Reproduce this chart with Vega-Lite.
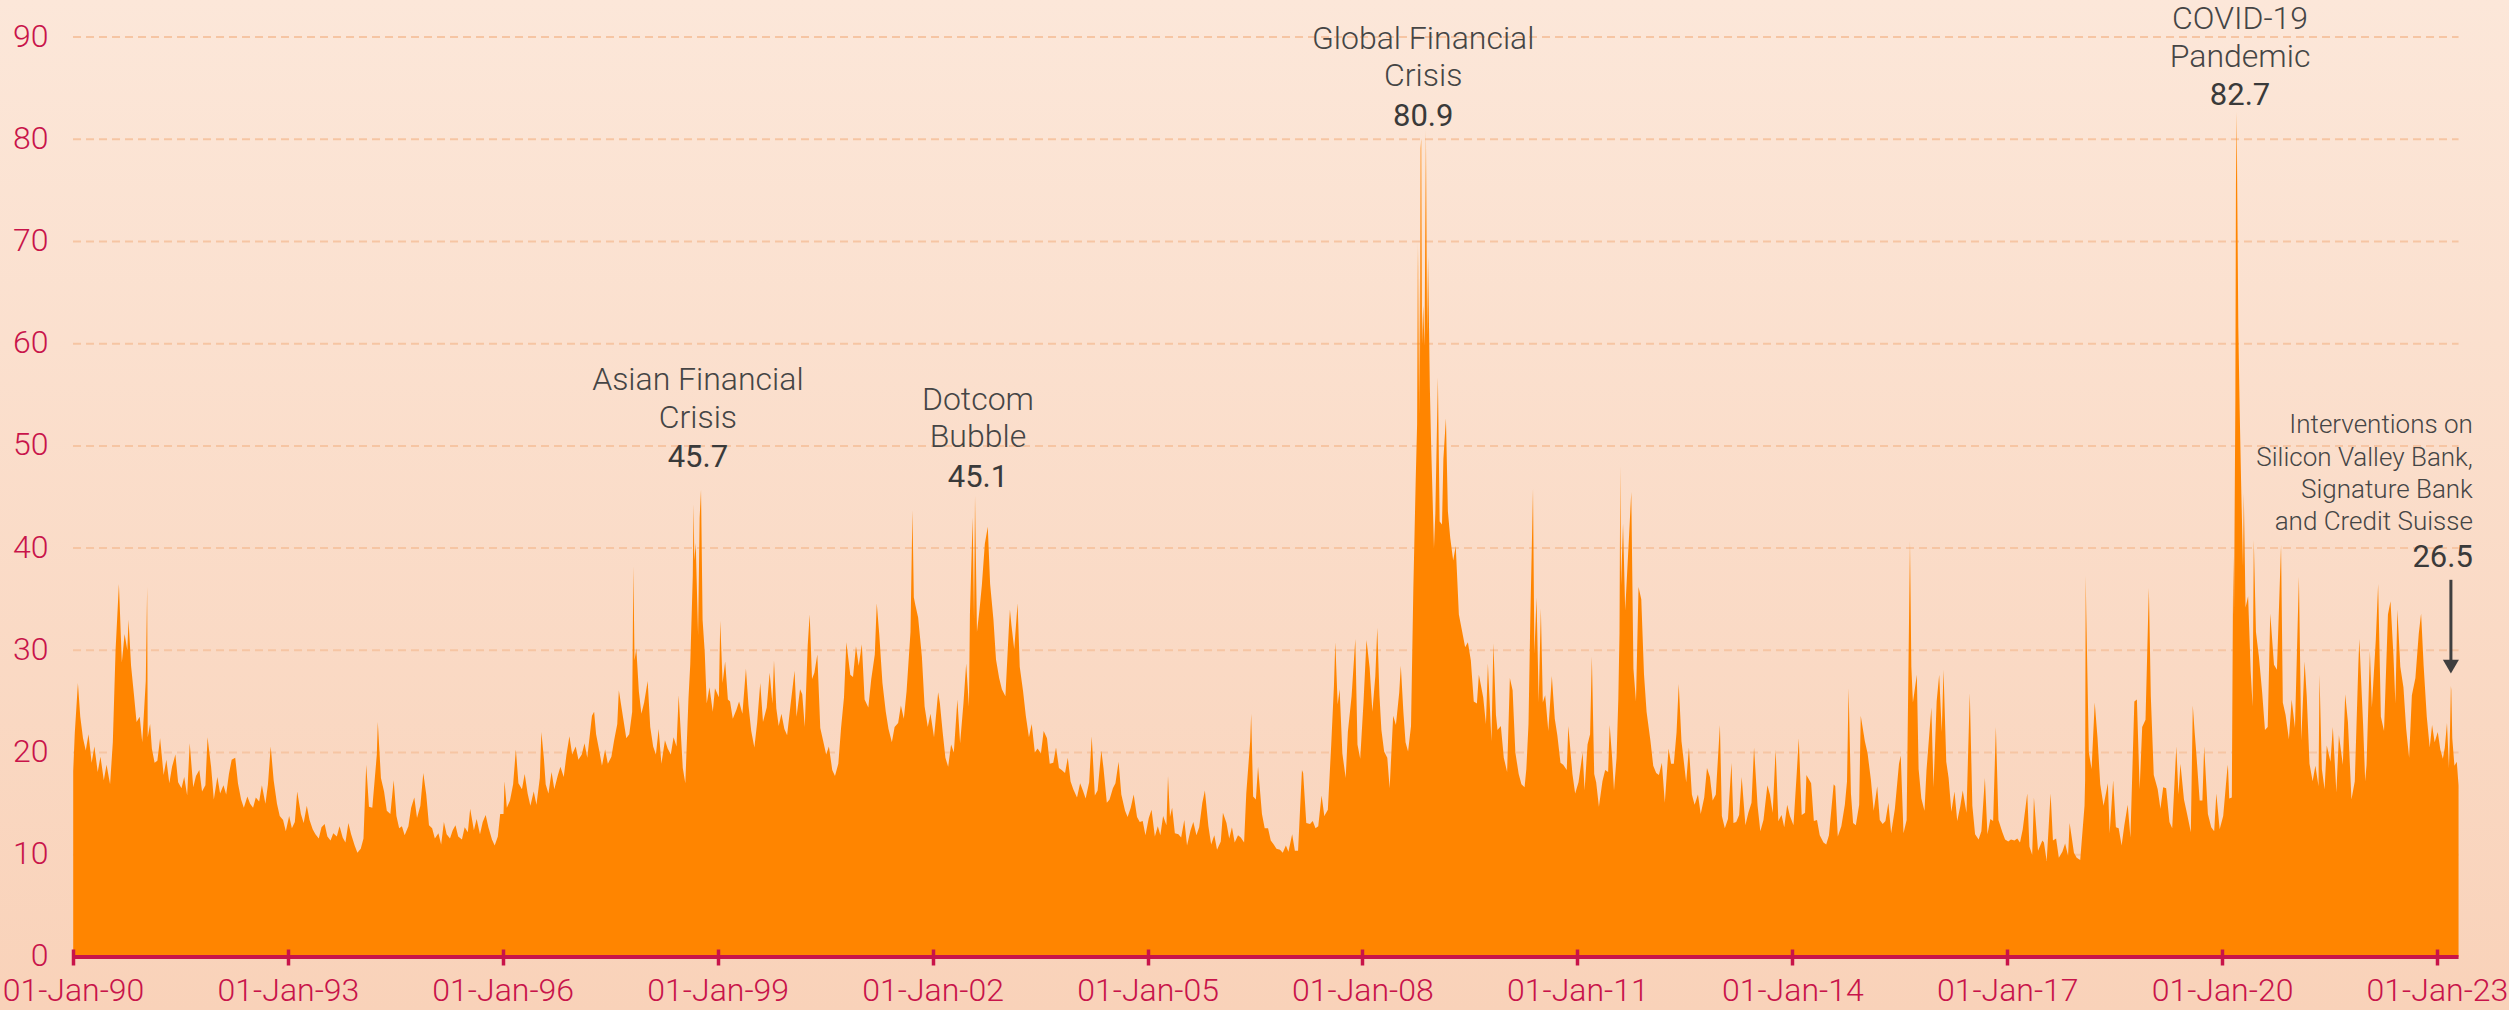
{
"$schema":"https://vega.github.io/schema/vega-lite/v6.json",
"width":2509,"height":1010,"autosize":{"type":"none"},"padding":0,
"background":"#FADDCB",
"config":{"view":{"stroke":null,"fill":{"gradient":"linear","x1":0,"y1":0,"x2":0,"y2":1,"stops":[{"offset":0,"color":"#FCE7D9"},{"offset":1,"color":"#F9D2B9"}]}},"font":"Roboto"},
"datasets":{
"grid":[{"v":10},{"v":20},{"v":30},{"v":40},{"v":50},{"v":60},{"v":70},{"v":80},{"v":90}],
"notes":[
{"g":"c","d":"1998-09-22","v":55.47,"t":"Asian Financial"},{"g":"c","d":"1998-09-22","v":51.75,"t":"Crisis"},{"g":"n","d":"1998-09-22","v":47.94,"t":"45.7"},
{"g":"c","d":"2002-08-20","v":53.51,"t":"Dotcom"},{"g":"c","d":"2002-08-20","v":49.89,"t":"Bubble"},{"g":"n","d":"2002-08-20","v":45.98,"t":"45.1"},
{"g":"c","d":"2008-11-06","v":88.83,"t":"Global Financial"},{"g":"c","d":"2008-11-06","v":85.21,"t":"Crisis"},{"g":"n","d":"2008-11-06","v":81.30,"t":"80.9"},
{"g":"c","d":"2020-04-02","v":90.78,"t":"COVID-19"},{"g":"c","d":"2020-04-02","v":87.07,"t":"Pandemic"},{"g":"n","d":"2020-04-02","v":83.35,"t":"82.7"},
{"g":"r","d":"2023-07-03","v":51.26,"t":"Interventions on"},{"g":"r","d":"2023-07-03","v":48.03,"t":"Silicon Valley Bank,"},{"g":"r","d":"2023-07-03","v":44.90,"t":"Signature Bank"},{"g":"r","d":"2023-07-03","v":41.77,"t":"and Credit Suisse"},{"g":"rn","d":"2023-07-03","v":38.15,"t":"26.5"}
],
"arrow":[{"d":"2023-03-13","a":36.9,"b":28.9,"h":28.4}],
"vix":[
{"d":"1990-01-02","v":18.2},{"d":"1990-01-10","v":21.9},{"d":"1990-01-26","v":26.8},{"d":"1990-02-07","v":23.5},{"d":"1990-02-21","v":21.4},{"d":"1990-03-07","v":20.2},{"d":"1990-03-21","v":21.8},{"d":"1990-04-06","v":19.0},{"d":"1990-04-20","v":20.6},{"d":"1990-05-07","v":18.1},{"d":"1990-05-21","v":19.6},{"d":"1990-06-07","v":17.3},{"d":"1990-06-21","v":18.8},{"d":"1990-07-09","v":16.9},{"d":"1990-07-23","v":21.0},{"d":"1990-08-06","v":30.0},{"d":"1990-08-23","v":36.5},{"d":"1990-09-07","v":28.8},{"d":"1990-09-21","v":31.6},{"d":"1990-10-05","v":30.0},{"d":"1990-10-11","v":33.0},{"d":"1990-10-24","v":28.5},{"d":"1990-11-07","v":25.8},{"d":"1990-11-21","v":23.0},{"d":"1990-12-07","v":23.5},{"d":"1990-12-20","v":21.0},
{"d":"1991-01-07","v":27.0},{"d":"1991-01-14","v":36.2},{"d":"1991-01-17","v":21.5},{"d":"1991-01-29","v":22.8},{"d":"1991-02-07","v":20.4},{"d":"1991-02-21","v":19.0},{"d":"1991-03-07","v":19.2},{"d":"1991-03-21","v":21.4},{"d":"1991-04-08","v":17.8},{"d":"1991-04-22","v":19.3},{"d":"1991-05-07","v":17.0},{"d":"1991-05-21","v":18.6},{"d":"1991-06-07","v":19.8},{"d":"1991-06-21","v":17.1},{"d":"1991-07-08","v":16.5},{"d":"1991-07-22","v":17.6},{"d":"1991-08-06","v":15.8},{"d":"1991-08-19","v":20.9},{"d":"1991-09-06","v":16.6},{"d":"1991-09-20","v":17.7},{"d":"1991-10-07","v":18.3},{"d":"1991-10-21","v":16.2},{"d":"1991-11-07","v":16.8},{"d":"1991-11-18","v":21.5},{"d":"1991-12-06","v":18.6},{"d":"1991-12-20","v":15.4},
{"d":"1992-01-07","v":17.6},{"d":"1992-01-21","v":16.0},{"d":"1992-02-07","v":16.8},{"d":"1992-02-21","v":15.9},{"d":"1992-03-06","v":17.9},{"d":"1992-03-20","v":19.3},{"d":"1992-04-07","v":19.5},{"d":"1992-04-21","v":17.0},{"d":"1992-05-07","v":15.4},{"d":"1992-05-21","v":14.6},{"d":"1992-06-08","v":15.7},{"d":"1992-06-22","v":15.0},{"d":"1992-07-07","v":14.6},{"d":"1992-07-21","v":15.6},{"d":"1992-08-07","v":15.2},{"d":"1992-08-21","v":16.8},{"d":"1992-09-08","v":15.0},{"d":"1992-09-21","v":16.9},{"d":"1992-10-05","v":20.6},{"d":"1992-10-20","v":17.3},{"d":"1992-11-06","v":15.0},{"d":"1992-11-20","v":13.8},{"d":"1992-12-07","v":13.4},{"d":"1992-12-21","v":12.3},
{"d":"1993-01-07","v":13.8},{"d":"1993-01-21","v":12.6},{"d":"1993-02-05","v":13.2},{"d":"1993-02-17","v":16.2},{"d":"1993-03-08","v":14.0},{"d":"1993-03-22","v":13.1},{"d":"1993-04-07","v":14.8},{"d":"1993-04-21","v":13.4},{"d":"1993-05-07","v":12.5},{"d":"1993-05-21","v":12.0},{"d":"1993-06-07","v":11.6},{"d":"1993-06-21","v":12.7},{"d":"1993-07-07","v":13.0},{"d":"1993-07-21","v":11.8},{"d":"1993-08-06","v":11.4},{"d":"1993-08-20","v":12.1},{"d":"1993-09-07","v":11.8},{"d":"1993-09-21","v":12.8},{"d":"1993-10-07","v":11.7},{"d":"1993-10-21","v":11.2},{"d":"1993-11-05","v":13.1},{"d":"1993-11-19","v":12.0},{"d":"1993-12-07","v":10.9},{"d":"1993-12-21","v":10.2},
{"d":"1994-01-07","v":10.6},{"d":"1994-01-21","v":11.6},{"d":"1994-02-04","v":18.8},{"d":"1994-02-18","v":14.7},{"d":"1994-03-07","v":14.6},{"d":"1994-03-30","v":19.8},{"d":"1994-04-04","v":23.0},{"d":"1994-04-20","v":17.5},{"d":"1994-05-06","v":16.2},{"d":"1994-05-20","v":14.3},{"d":"1994-06-07","v":14.0},{"d":"1994-06-24","v":17.3},{"d":"1994-07-08","v":13.8},{"d":"1994-07-22","v":12.6},{"d":"1994-08-05","v":12.8},{"d":"1994-08-19","v":11.9},{"d":"1994-09-07","v":12.8},{"d":"1994-09-21","v":14.6},{"d":"1994-10-07","v":15.6},{"d":"1994-10-21","v":13.6},{"d":"1994-11-07","v":14.8},{"d":"1994-11-22","v":18.0},{"d":"1994-12-07","v":15.9},{"d":"1994-12-21","v":12.9},
{"d":"1995-01-06","v":12.6},{"d":"1995-01-20","v":11.6},{"d":"1995-02-07","v":12.1},{"d":"1995-02-21","v":11.0},{"d":"1995-03-07","v":13.2},{"d":"1995-03-21","v":12.0},{"d":"1995-04-07","v":11.6},{"d":"1995-04-21","v":12.4},{"d":"1995-05-05","v":12.9},{"d":"1995-05-19","v":11.8},{"d":"1995-06-07","v":11.5},{"d":"1995-06-21","v":12.7},{"d":"1995-07-07","v":12.2},{"d":"1995-07-19","v":14.5},{"d":"1995-08-07","v":12.4},{"d":"1995-08-21","v":13.5},{"d":"1995-09-07","v":12.0},{"d":"1995-09-21","v":13.2},{"d":"1995-10-06","v":13.9},{"d":"1995-10-20","v":12.7},{"d":"1995-11-07","v":11.5},{"d":"1995-11-21","v":10.9},{"d":"1995-12-07","v":11.8},{"d":"1995-12-19","v":14.0},
{"d":"1996-01-05","v":14.0},{"d":"1996-01-10","v":17.2},{"d":"1996-01-22","v":14.6},{"d":"1996-02-07","v":15.3},{"d":"1996-02-23","v":16.9},{"d":"1996-03-08","v":20.3},{"d":"1996-03-21","v":17.0},{"d":"1996-04-08","v":16.4},{"d":"1996-04-22","v":17.9},{"d":"1996-05-07","v":16.0},{"d":"1996-05-21","v":14.8},{"d":"1996-06-07","v":16.2},{"d":"1996-06-21","v":14.9},{"d":"1996-07-08","v":17.5},{"d":"1996-07-16","v":22.0},{"d":"1996-07-29","v":19.4},{"d":"1996-08-07","v":16.9},{"d":"1996-08-21","v":16.0},{"d":"1996-09-06","v":18.1},{"d":"1996-09-20","v":16.4},{"d":"1996-10-07","v":17.7},{"d":"1996-10-21","v":18.6},{"d":"1996-11-07","v":17.6},{"d":"1996-11-21","v":19.8},{"d":"1996-12-06","v":21.6},{"d":"1996-12-20","v":19.8},
{"d":"1997-01-07","v":20.6},{"d":"1997-01-21","v":19.3},{"d":"1997-02-07","v":19.8},{"d":"1997-02-21","v":20.9},{"d":"1997-03-07","v":19.5},{"d":"1997-03-31","v":23.6},{"d":"1997-04-11","v":24.0},{"d":"1997-04-21","v":21.8},{"d":"1997-05-07","v":20.2},{"d":"1997-05-21","v":18.7},{"d":"1997-06-06","v":20.3},{"d":"1997-06-20","v":18.9},{"d":"1997-07-08","v":19.6},{"d":"1997-07-22","v":21.2},{"d":"1997-08-07","v":22.8},{"d":"1997-08-15","v":26.1},{"d":"1997-09-05","v":23.5},{"d":"1997-09-22","v":21.4},{"d":"1997-10-07","v":21.8},{"d":"1997-10-22","v":24.0},{"d":"1997-10-28","v":38.2},{"d":"1997-11-03","v":29.0},{"d":"1997-11-12","v":30.2},{"d":"1997-11-25","v":26.0},{"d":"1997-12-08","v":23.8},{"d":"1997-12-22","v":24.9},
{"d":"1998-01-09","v":27.0},{"d":"1998-01-22","v":22.5},{"d":"1998-02-06","v":20.6},{"d":"1998-02-20","v":19.8},{"d":"1998-03-06","v":22.3},{"d":"1998-03-20","v":18.9},{"d":"1998-04-07","v":21.2},{"d":"1998-04-21","v":20.4},{"d":"1998-05-07","v":19.8},{"d":"1998-05-21","v":21.5},{"d":"1998-06-05","v":20.6},{"d":"1998-06-16","v":25.6},{"d":"1998-07-07","v":18.5},{"d":"1998-07-20","v":17.0},{"d":"1998-08-05","v":25.3},{"d":"1998-08-14","v":28.6},{"d":"1998-08-27","v":37.3},{"d":"1998-08-31","v":44.3},{"d":"1998-09-04","v":38.8},{"d":"1998-09-11","v":40.5},{"d":"1998-09-23","v":31.5},{"d":"1998-10-01","v":43.0},{"d":"1998-10-08","v":45.7},{"d":"1998-10-16","v":33.0},{"d":"1998-10-27","v":29.8},{"d":"1998-11-06","v":24.8},{"d":"1998-11-20","v":26.4},{"d":"1998-12-07","v":24.0},{"d":"1998-12-18","v":26.3},
{"d":"1999-01-07","v":25.4},{"d":"1999-01-14","v":32.9},{"d":"1999-01-26","v":26.8},{"d":"1999-02-08","v":28.9},{"d":"1999-02-22","v":25.2},{"d":"1999-03-05","v":25.0},{"d":"1999-03-19","v":23.3},{"d":"1999-04-07","v":24.2},{"d":"1999-04-20","v":25.0},{"d":"1999-05-07","v":23.8},{"d":"1999-05-25","v":28.2},{"d":"1999-06-07","v":24.6},{"d":"1999-06-21","v":22.1},{"d":"1999-07-07","v":20.5},{"d":"1999-07-21","v":22.9},{"d":"1999-08-06","v":26.8},{"d":"1999-08-20","v":23.0},{"d":"1999-09-08","v":24.4},{"d":"1999-09-23","v":27.8},{"d":"1999-10-07","v":24.8},{"d":"1999-10-15","v":29.0},{"d":"1999-10-27","v":24.3},{"d":"1999-11-08","v":22.6},{"d":"1999-11-22","v":23.8},{"d":"1999-12-07","v":22.3},{"d":"1999-12-21","v":21.7},
{"d":"2000-01-07","v":24.6},{"d":"2000-01-28","v":28.0},{"d":"2000-02-07","v":23.5},{"d":"2000-02-25","v":26.2},{"d":"2000-03-07","v":25.7},{"d":"2000-03-20","v":22.5},{"d":"2000-04-04","v":30.5},{"d":"2000-04-14","v":33.5},{"d":"2000-04-26","v":27.2},{"d":"2000-05-08","v":27.8},{"d":"2000-05-23","v":29.6},{"d":"2000-06-07","v":22.4},{"d":"2000-06-21","v":21.2},{"d":"2000-07-07","v":19.8},{"d":"2000-07-21","v":20.6},{"d":"2000-08-07","v":18.3},{"d":"2000-08-21","v":17.7},{"d":"2000-09-07","v":18.9},{"d":"2000-09-21","v":22.4},{"d":"2000-10-06","v":25.4},{"d":"2000-10-18","v":30.8},{"d":"2000-11-07","v":27.6},{"d":"2000-11-21","v":27.4},{"d":"2000-12-06","v":30.4},{"d":"2000-12-20","v":28.5},
{"d":"2001-01-05","v":30.6},{"d":"2001-01-19","v":25.2},{"d":"2001-02-07","v":24.4},{"d":"2001-02-22","v":27.2},{"d":"2001-03-12","v":29.6},{"d":"2001-03-22","v":34.6},{"d":"2001-04-04","v":31.5},{"d":"2001-04-20","v":26.8},{"d":"2001-05-07","v":24.0},{"d":"2001-05-21","v":22.3},{"d":"2001-06-07","v":21.0},{"d":"2001-06-21","v":22.5},{"d":"2001-07-09","v":22.9},{"d":"2001-07-23","v":24.6},{"d":"2001-08-07","v":23.3},{"d":"2001-08-21","v":26.0},{"d":"2001-09-10","v":31.8},{"d":"2001-09-20","v":43.7},{"d":"2001-09-27","v":35.2},{"d":"2001-10-05","v":34.4},{"d":"2001-10-19","v":33.2},{"d":"2001-11-07","v":29.4},{"d":"2001-11-21","v":24.5},{"d":"2001-12-07","v":22.5},{"d":"2001-12-21","v":23.8},
{"d":"2002-01-08","v":21.5},{"d":"2002-01-29","v":25.9},{"d":"2002-02-07","v":24.8},{"d":"2002-02-21","v":22.0},{"d":"2002-03-07","v":19.5},{"d":"2002-03-21","v":18.6},{"d":"2002-04-05","v":20.8},{"d":"2002-04-19","v":20.0},{"d":"2002-05-07","v":25.2},{"d":"2002-05-21","v":20.9},{"d":"2002-06-07","v":24.8},{"d":"2002-06-21","v":28.7},{"d":"2002-07-05","v":24.5},{"d":"2002-07-10","v":33.5},{"d":"2002-07-24","v":43.0},{"d":"2002-07-31","v":33.0},{"d":"2002-08-05","v":45.1},{"d":"2002-08-15","v":31.8},{"d":"2002-08-28","v":34.0},{"d":"2002-09-09","v":36.4},{"d":"2002-09-24","v":40.4},{"d":"2002-10-09","v":42.1},{"d":"2002-10-21","v":36.5},{"d":"2002-11-07","v":33.0},{"d":"2002-11-20","v":29.1},{"d":"2002-12-06","v":27.3},{"d":"2002-12-20","v":26.2},
{"d":"2003-01-07","v":25.5},{"d":"2003-01-24","v":32.0},{"d":"2003-01-30","v":34.0},{"d":"2003-02-07","v":32.4},{"d":"2003-02-21","v":30.1},{"d":"2003-03-10","v":34.6},{"d":"2003-03-21","v":28.4},{"d":"2003-04-07","v":26.0},{"d":"2003-04-21","v":23.6},{"d":"2003-05-07","v":21.5},{"d":"2003-05-21","v":22.8},{"d":"2003-06-06","v":20.0},{"d":"2003-06-20","v":20.4},{"d":"2003-07-07","v":19.9},{"d":"2003-07-21","v":22.1},{"d":"2003-08-07","v":21.4},{"d":"2003-08-21","v":18.9},{"d":"2003-09-08","v":19.0},{"d":"2003-09-22","v":20.5},{"d":"2003-10-07","v":18.5},{"d":"2003-10-21","v":18.3},{"d":"2003-11-07","v":18.0},{"d":"2003-11-21","v":19.5},{"d":"2003-12-05","v":17.2},{"d":"2003-12-19","v":16.4},
{"d":"2004-01-07","v":15.6},{"d":"2004-01-23","v":17.0},{"d":"2004-02-06","v":16.3},{"d":"2004-02-20","v":15.5},{"d":"2004-03-09","v":17.1},{"d":"2004-03-22","v":21.6},{"d":"2004-04-07","v":15.8},{"d":"2004-04-21","v":16.3},{"d":"2004-05-10","v":20.2},{"d":"2004-05-21","v":18.5},{"d":"2004-06-07","v":15.1},{"d":"2004-06-21","v":15.4},{"d":"2004-07-08","v":16.5},{"d":"2004-07-21","v":17.0},{"d":"2004-08-06","v":19.1},{"d":"2004-08-20","v":15.9},{"d":"2004-09-08","v":14.3},{"d":"2004-09-21","v":13.7},{"d":"2004-10-07","v":14.6},{"d":"2004-10-22","v":15.9},{"d":"2004-11-08","v":13.7},{"d":"2004-11-22","v":13.2},{"d":"2004-12-07","v":13.3},{"d":"2004-12-21","v":11.9},
{"d":"2005-01-07","v":13.6},{"d":"2005-01-21","v":14.4},{"d":"2005-02-07","v":11.8},{"d":"2005-02-22","v":12.8},{"d":"2005-03-07","v":11.9},{"d":"2005-03-21","v":13.8},{"d":"2005-04-07","v":12.9},{"d":"2005-04-15","v":17.7},{"d":"2005-04-25","v":13.7},{"d":"2005-05-06","v":14.6},{"d":"2005-05-20","v":12.1},{"d":"2005-06-07","v":12.0},{"d":"2005-06-21","v":11.7},{"d":"2005-07-07","v":13.4},{"d":"2005-07-21","v":10.9},{"d":"2005-08-08","v":12.4},{"d":"2005-08-22","v":13.2},{"d":"2005-09-07","v":11.9},{"d":"2005-09-21","v":12.7},{"d":"2005-10-07","v":15.1},{"d":"2005-10-20","v":16.3},{"d":"2005-11-07","v":12.8},{"d":"2005-11-21","v":11.0},{"d":"2005-12-07","v":11.9},{"d":"2005-12-21","v":10.5},
{"d":"2006-01-09","v":11.3},{"d":"2006-01-20","v":14.1},{"d":"2006-02-07","v":13.1},{"d":"2006-02-21","v":11.6},{"d":"2006-03-07","v":12.7},{"d":"2006-03-21","v":11.2},{"d":"2006-04-07","v":11.9},{"d":"2006-04-21","v":11.7},{"d":"2006-05-08","v":11.2},{"d":"2006-05-19","v":16.0},{"d":"2006-06-08","v":21.1},{"d":"2006-06-13","v":23.8},{"d":"2006-06-23","v":15.7},{"d":"2006-07-07","v":15.4},{"d":"2006-07-18","v":18.6},{"d":"2006-08-07","v":14.0},{"d":"2006-08-21","v":12.6},{"d":"2006-09-07","v":12.6},{"d":"2006-09-21","v":11.4},{"d":"2006-10-06","v":11.0},{"d":"2006-10-20","v":10.6},{"d":"2006-11-07","v":10.5},{"d":"2006-11-21","v":10.2},{"d":"2006-12-07","v":10.9},{"d":"2006-12-20","v":10.3},
{"d":"2007-01-08","v":12.0},{"d":"2007-01-22","v":10.4},{"d":"2007-02-07","v":10.4},{"d":"2007-02-27","v":18.3},{"d":"2007-03-05","v":18.0},{"d":"2007-03-21","v":13.1},{"d":"2007-04-09","v":13.0},{"d":"2007-04-23","v":13.3},{"d":"2007-05-07","v":12.6},{"d":"2007-05-21","v":12.8},{"d":"2007-06-07","v":15.8},{"d":"2007-06-21","v":13.8},{"d":"2007-07-09","v":14.4},{"d":"2007-07-26","v":20.7},{"d":"2007-08-09","v":26.5},{"d":"2007-08-16","v":30.8},{"d":"2007-08-28","v":24.7},{"d":"2007-09-07","v":26.2},{"d":"2007-09-21","v":19.9},{"d":"2007-10-08","v":17.5},{"d":"2007-10-19","v":22.0},{"d":"2007-11-07","v":25.5},{"d":"2007-11-26","v":31.1},{"d":"2007-12-07","v":20.8},{"d":"2007-12-21","v":19.4},
{"d":"2008-01-07","v":25.0},{"d":"2008-01-22","v":31.0},{"d":"2008-02-07","v":28.3},{"d":"2008-02-21","v":24.0},{"d":"2008-03-07","v":27.5},{"d":"2008-03-17","v":32.2},{"d":"2008-03-28","v":25.6},{"d":"2008-04-07","v":22.2},{"d":"2008-04-21","v":20.1},{"d":"2008-05-07","v":19.5},{"d":"2008-05-19","v":16.5},{"d":"2008-06-06","v":23.6},{"d":"2008-06-20","v":22.7},{"d":"2008-07-07","v":25.9},{"d":"2008-07-15","v":28.5},{"d":"2008-07-28","v":24.0},{"d":"2008-08-08","v":21.0},{"d":"2008-08-21","v":20.1},{"d":"2008-09-05","v":22.6},{"d":"2008-09-17","v":36.2},{"d":"2008-09-29","v":46.7},{"d":"2008-10-06","v":52.1},{"d":"2008-10-10","v":69.9},{"d":"2008-10-13","v":55.0},{"d":"2008-10-15","v":69.3},{"d":"2008-10-20","v":53.0},{"d":"2008-10-24","v":79.1},{"d":"2008-10-27","v":80.1},{"d":"2008-10-31","v":59.9},{"d":"2008-11-06","v":63.7},{"d":"2008-11-13","v":59.8},{"d":"2008-11-20","v":80.9},{"d":"2008-11-26","v":60.9},{"d":"2008-12-01","v":68.5},{"d":"2008-12-10","v":55.7},{"d":"2008-12-17","v":49.8},{"d":"2008-12-31","v":40.0},
{"d":"2009-01-07","v":43.4},{"d":"2009-01-20","v":56.7},{"d":"2009-01-29","v":42.6},{"d":"2009-02-10","v":42.3},{"d":"2009-02-17","v":48.7},{"d":"2009-03-02","v":52.7},{"d":"2009-03-12","v":43.6},{"d":"2009-03-24","v":41.0},{"d":"2009-04-08","v":38.8},{"d":"2009-04-21","v":40.2},{"d":"2009-05-07","v":33.5},{"d":"2009-05-21","v":32.1},{"d":"2009-06-08","v":30.3},{"d":"2009-06-22","v":30.8},{"d":"2009-07-07","v":29.0},{"d":"2009-07-22","v":25.0},{"d":"2009-08-07","v":24.8},{"d":"2009-08-17","v":27.6},{"d":"2009-09-08","v":25.4},{"d":"2009-09-22","v":22.8},{"d":"2009-10-02","v":28.7},{"d":"2009-10-20","v":21.1},{"d":"2009-10-30","v":30.7},{"d":"2009-11-12","v":23.7},{"d":"2009-11-20","v":22.2},{"d":"2009-12-07","v":22.6},{"d":"2009-12-22","v":19.5},
{"d":"2010-01-08","v":18.1},{"d":"2010-01-22","v":27.3},{"d":"2010-02-05","v":26.1},{"d":"2010-02-19","v":20.0},{"d":"2010-03-08","v":17.9},{"d":"2010-03-22","v":16.9},{"d":"2010-04-07","v":16.6},{"d":"2010-04-16","v":18.4},{"d":"2010-04-27","v":22.8},{"d":"2010-05-06","v":32.8},{"d":"2010-05-20","v":45.8},{"d":"2010-05-27","v":29.7},{"d":"2010-06-07","v":35.2},{"d":"2010-06-18","v":24.9},{"d":"2010-06-29","v":34.1},{"d":"2010-07-09","v":24.9},{"d":"2010-07-21","v":25.6},{"d":"2010-08-06","v":22.1},{"d":"2010-08-24","v":27.5},{"d":"2010-09-08","v":23.3},{"d":"2010-09-21","v":21.7},{"d":"2010-10-07","v":19.0},{"d":"2010-10-21","v":18.8},{"d":"2010-11-08","v":18.3},{"d":"2010-11-16","v":22.6},{"d":"2010-12-07","v":17.9},{"d":"2010-12-21","v":16.0},
{"d":"2011-01-07","v":17.1},{"d":"2011-01-28","v":20.0},{"d":"2011-02-07","v":16.3},{"d":"2011-02-22","v":20.8},{"d":"2011-03-07","v":21.8},{"d":"2011-03-16","v":29.4},{"d":"2011-03-28","v":17.9},{"d":"2011-04-07","v":17.1},{"d":"2011-04-21","v":14.7},{"d":"2011-05-09","v":17.2},{"d":"2011-05-23","v":18.3},{"d":"2011-06-07","v":18.1},{"d":"2011-06-15","v":22.7},{"d":"2011-06-27","v":19.6},{"d":"2011-07-07","v":16.3},{"d":"2011-07-20","v":19.5},{"d":"2011-07-29","v":25.3},{"d":"2011-08-04","v":31.7},{"d":"2011-08-08","v":48.0},{"d":"2011-08-12","v":36.4},{"d":"2011-08-22","v":42.4},{"d":"2011-09-02","v":33.9},{"d":"2011-09-22","v":41.3},{"d":"2011-10-03","v":45.5},{"d":"2011-10-14","v":28.2},{"d":"2011-10-27","v":25.0},{"d":"2011-11-09","v":36.2},{"d":"2011-11-23","v":35.0},{"d":"2011-12-07","v":27.6},{"d":"2011-12-20","v":24.0},
{"d":"2012-01-09","v":21.1},{"d":"2012-01-23","v":18.7},{"d":"2012-02-07","v":18.0},{"d":"2012-02-21","v":17.8},{"d":"2012-03-07","v":19.0},{"d":"2012-03-22","v":15.1},{"d":"2012-04-10","v":20.4},{"d":"2012-04-23","v":18.9},{"d":"2012-05-07","v":18.9},{"d":"2012-05-21","v":22.0},{"d":"2012-06-01","v":26.7},{"d":"2012-06-15","v":21.1},{"d":"2012-07-09","v":17.1},{"d":"2012-07-23","v":20.5},{"d":"2012-08-07","v":15.9},{"d":"2012-08-21","v":14.9},{"d":"2012-09-07","v":15.9},{"d":"2012-09-21","v":14.0},{"d":"2012-10-09","v":15.6},{"d":"2012-10-23","v":18.5},{"d":"2012-11-07","v":17.6},{"d":"2012-11-21","v":15.3},{"d":"2012-12-07","v":15.9},{"d":"2012-12-28","v":22.7},
{"d":"2013-01-07","v":13.8},{"d":"2013-01-22","v":12.6},{"d":"2013-02-07","v":13.5},{"d":"2013-02-25","v":19.0},{"d":"2013-03-07","v":13.1},{"d":"2013-03-21","v":13.2},{"d":"2013-04-05","v":13.9},{"d":"2013-04-18","v":17.6},{"d":"2013-05-07","v":12.9},{"d":"2013-05-22","v":14.1},{"d":"2013-06-07","v":15.1},{"d":"2013-06-20","v":20.5},{"d":"2013-07-08","v":14.8},{"d":"2013-07-22","v":12.3},{"d":"2013-08-07","v":13.4},{"d":"2013-08-27","v":16.8},{"d":"2013-09-09","v":15.9},{"d":"2013-09-23","v":14.1},{"d":"2013-10-08","v":20.3},{"d":"2013-10-22","v":13.3},{"d":"2013-11-07","v":13.9},{"d":"2013-11-21","v":12.7},{"d":"2013-12-06","v":14.9},{"d":"2013-12-20","v":13.8},
{"d":"2014-01-07","v":12.9},{"d":"2014-01-24","v":18.1},{"d":"2014-02-03","v":21.4},{"d":"2014-02-18","v":13.9},{"d":"2014-03-07","v":14.1},{"d":"2014-03-14","v":17.8},{"d":"2014-04-07","v":17.0},{"d":"2014-04-21","v":13.3},{"d":"2014-05-07","v":13.4},{"d":"2014-05-21","v":11.9},{"d":"2014-06-09","v":11.2},{"d":"2014-06-23","v":11.0},{"d":"2014-07-07","v":11.9},{"d":"2014-07-31","v":16.9},{"d":"2014-08-08","v":16.7},{"d":"2014-08-21","v":11.8},{"d":"2014-09-08","v":12.8},{"d":"2014-09-26","v":14.9},{"d":"2014-10-07","v":17.2},{"d":"2014-10-15","v":26.3},{"d":"2014-10-27","v":16.0},{"d":"2014-11-07","v":13.1},{"d":"2014-11-21","v":12.9},{"d":"2014-12-08","v":14.9},{"d":"2014-12-16","v":23.6},
{"d":"2015-01-06","v":21.1},{"d":"2015-01-20","v":19.9},{"d":"2015-02-06","v":17.3},{"d":"2015-02-20","v":14.3},{"d":"2015-03-10","v":16.7},{"d":"2015-03-23","v":13.4},{"d":"2015-04-07","v":13.0},{"d":"2015-04-21","v":13.3},{"d":"2015-05-06","v":15.1},{"d":"2015-05-20","v":12.1},{"d":"2015-06-08","v":14.5},{"d":"2015-06-29","v":18.9},{"d":"2015-07-08","v":19.7},{"d":"2015-07-22","v":12.1},{"d":"2015-08-07","v":13.4},{"d":"2015-08-24","v":40.7},{"d":"2015-08-31","v":28.4},{"d":"2015-09-08","v":24.9},{"d":"2015-09-28","v":27.6},{"d":"2015-10-07","v":18.4},{"d":"2015-10-21","v":15.5},{"d":"2015-11-06","v":14.3},{"d":"2015-11-16","v":18.2},{"d":"2015-12-11","v":24.4},{"d":"2015-12-22","v":16.6},
{"d":"2016-01-07","v":25.0},{"d":"2016-01-20","v":27.6},{"d":"2016-02-02","v":22.0},{"d":"2016-02-11","v":28.1},{"d":"2016-02-25","v":19.1},{"d":"2016-03-08","v":17.5},{"d":"2016-03-22","v":14.2},{"d":"2016-04-07","v":16.2},{"d":"2016-04-21","v":13.3},{"d":"2016-05-06","v":14.7},{"d":"2016-05-19","v":16.3},{"d":"2016-06-07","v":14.1},{"d":"2016-06-24","v":25.8},{"d":"2016-07-07","v":14.8},{"d":"2016-07-21","v":12.0},{"d":"2016-08-08","v":11.5},{"d":"2016-08-22","v":12.3},{"d":"2016-09-09","v":17.5},{"d":"2016-09-22","v":12.0},{"d":"2016-10-07","v":13.5},{"d":"2016-10-21","v":13.3},{"d":"2016-11-04","v":22.5},{"d":"2016-11-17","v":13.4},{"d":"2016-12-07","v":12.2},{"d":"2016-12-21","v":11.5},
{"d":"2017-01-06","v":11.3},{"d":"2017-01-20","v":11.5},{"d":"2017-02-07","v":11.4},{"d":"2017-02-21","v":11.6},{"d":"2017-03-07","v":11.2},{"d":"2017-03-21","v":12.5},{"d":"2017-04-13","v":16.0},{"d":"2017-04-24","v":10.8},{"d":"2017-05-08","v":10.0},{"d":"2017-05-17","v":15.6},{"d":"2017-06-07","v":10.4},{"d":"2017-06-29","v":11.4},{"d":"2017-07-07","v":11.2},{"d":"2017-07-21","v":9.4},{"d":"2017-08-10","v":16.0},{"d":"2017-08-22","v":11.4},{"d":"2017-09-07","v":11.6},{"d":"2017-09-21","v":9.7},{"d":"2017-10-09","v":10.3},{"d":"2017-10-23","v":11.1},{"d":"2017-11-07","v":9.9},{"d":"2017-11-15","v":13.1},{"d":"2017-12-07","v":10.2},{"d":"2017-12-21","v":9.7},
{"d":"2018-01-08","v":9.5},{"d":"2018-01-30","v":14.8},{"d":"2018-02-02","v":17.3},{"d":"2018-02-05","v":37.3},{"d":"2018-02-08","v":33.5},{"d":"2018-02-21","v":20.0},{"d":"2018-03-07","v":18.4},{"d":"2018-03-23","v":24.9},{"d":"2018-04-06","v":21.5},{"d":"2018-04-20","v":16.9},{"d":"2018-05-07","v":14.8},{"d":"2018-05-29","v":17.0},{"d":"2018-06-07","v":12.1},{"d":"2018-06-25","v":17.3},{"d":"2018-07-09","v":12.7},{"d":"2018-07-23","v":12.6},{"d":"2018-08-07","v":10.9},{"d":"2018-08-21","v":12.9},{"d":"2018-09-07","v":14.9},{"d":"2018-09-21","v":11.7},{"d":"2018-10-11","v":25.0},{"d":"2018-10-24","v":25.2},{"d":"2018-11-07","v":16.4},{"d":"2018-11-20","v":22.5},{"d":"2018-12-07","v":23.2},{"d":"2018-12-24","v":36.1},
{"d":"2019-01-03","v":25.5},{"d":"2019-01-18","v":17.8},{"d":"2019-02-07","v":16.4},{"d":"2019-02-21","v":14.5},{"d":"2019-03-07","v":16.6},{"d":"2019-03-22","v":16.5},{"d":"2019-04-08","v":13.2},{"d":"2019-04-22","v":12.6},{"d":"2019-05-13","v":20.6},{"d":"2019-05-24","v":15.9},{"d":"2019-06-03","v":18.9},{"d":"2019-06-21","v":15.4},{"d":"2019-07-08","v":13.9},{"d":"2019-07-26","v":12.2},{"d":"2019-08-05","v":24.6},{"d":"2019-08-14","v":22.1},{"d":"2019-08-23","v":19.9},{"d":"2019-09-09","v":15.3},{"d":"2019-09-23","v":15.3},{"d":"2019-10-02","v":20.6},{"d":"2019-10-21","v":14.0},{"d":"2019-11-07","v":12.7},{"d":"2019-11-22","v":12.3},{"d":"2019-12-03","v":16.0},{"d":"2019-12-20","v":12.5},
{"d":"2020-01-07","v":13.8},{"d":"2020-01-27","v":18.2},{"d":"2020-01-31","v":18.8},{"d":"2020-02-07","v":15.5},{"d":"2020-02-20","v":15.6},{"d":"2020-02-27","v":39.2},{"d":"2020-03-02","v":33.4},{"d":"2020-03-09","v":54.5},{"d":"2020-03-12","v":75.5},{"d":"2020-03-16","v":82.7},{"d":"2020-03-18","v":76.5},{"d":"2020-03-24","v":61.7},{"d":"2020-03-31","v":53.5},{"d":"2020-04-07","v":46.7},{"d":"2020-04-17","v":38.2},{"d":"2020-04-21","v":45.4},{"d":"2020-04-30","v":34.2},{"d":"2020-05-13","v":35.3},{"d":"2020-05-26","v":28.0},{"d":"2020-06-05","v":24.5},{"d":"2020-06-11","v":40.8},{"d":"2020-06-22","v":31.8},{"d":"2020-07-07","v":29.4},{"d":"2020-07-24","v":25.8},{"d":"2020-08-07","v":22.2},{"d":"2020-08-21","v":22.5},{"d":"2020-09-03","v":33.6},{"d":"2020-09-22","v":28.6},{"d":"2020-10-07","v":28.1},{"d":"2020-10-28","v":40.3},{"d":"2020-11-06","v":24.9},{"d":"2020-11-20","v":23.7},{"d":"2020-12-07","v":21.3},{"d":"2020-12-21","v":25.2},
{"d":"2021-01-07","v":22.4},{"d":"2021-01-27","v":37.2},{"d":"2021-02-08","v":21.2},{"d":"2021-02-25","v":28.9},{"d":"2021-03-08","v":25.5},{"d":"2021-03-22","v":18.9},{"d":"2021-04-07","v":17.2},{"d":"2021-04-21","v":18.7},{"d":"2021-05-07","v":16.7},{"d":"2021-05-12","v":27.6},{"d":"2021-05-24","v":18.4},{"d":"2021-06-07","v":16.4},{"d":"2021-06-18","v":20.7},{"d":"2021-07-07","v":19.1},{"d":"2021-07-19","v":22.5},{"d":"2021-08-06","v":16.1},{"d":"2021-08-19","v":21.7},{"d":"2021-09-08","v":18.8},{"d":"2021-09-20","v":25.7},{"d":"2021-10-04","v":23.0},{"d":"2021-10-22","v":15.4},{"d":"2021-11-08","v":17.2},{"d":"2021-11-26","v":28.6},{"d":"2021-12-01","v":31.1},{"d":"2021-12-20","v":22.9},{"d":"2021-12-31","v":17.2},
{"d":"2022-01-07","v":18.8},{"d":"2022-01-24","v":29.9},{"d":"2022-02-03","v":24.4},{"d":"2022-02-23","v":31.0},{"d":"2022-03-07","v":36.5},{"d":"2022-03-21","v":23.5},{"d":"2022-04-06","v":22.1},{"d":"2022-04-26","v":33.5},{"d":"2022-05-09","v":34.8},{"d":"2022-05-24","v":29.5},{"d":"2022-06-03","v":24.8},{"d":"2022-06-13","v":34.0},{"d":"2022-06-28","v":28.4},{"d":"2022-07-14","v":26.4},{"d":"2022-07-28","v":22.3},{"d":"2022-08-12","v":19.5},{"d":"2022-08-26","v":25.6},{"d":"2022-09-13","v":27.3},{"d":"2022-09-30","v":31.6},{"d":"2022-10-12","v":33.6},{"d":"2022-10-25","v":28.5},{"d":"2022-11-10","v":23.5},{"d":"2022-11-25","v":20.5},{"d":"2022-12-07","v":22.7},{"d":"2022-12-20","v":21.0},
{"d":"2023-01-05","v":22.0},{"d":"2023-01-18","v":20.3},{"d":"2023-01-31","v":19.4},{"d":"2023-02-10","v":20.5},{"d":"2023-02-21","v":22.9},{"d":"2023-03-03","v":18.5},{"d":"2023-03-09","v":22.6},{"d":"2023-03-13","v":26.5},{"d":"2023-03-15","v":26.1},{"d":"2023-03-20","v":21.4},{"d":"2023-03-31","v":18.7},{"d":"2023-04-12","v":19.1},{"d":"2023-04-21","v":16.8}
]},
"layer":[
{"data":{"name":"grid"},
 "mark":{"type":"rule","strokeDash":[8,5],"strokeWidth":2,"color":"#F6C5A3"},
 "encoding":{"y":{"field":"v","type":"quantitative","title":null},
  "x":{"datum":{"year":1990,"month":1,"date":1,"utc":true},"type":"temporal","title":null},
  "x2":{"datum":{"year":2023,"month":4,"date":21,"utc":true}}}},
{"data":{"name":"vix"},
 "mark":{"type":"area","color":"#FF8500","interpolate":"linear"},
 "encoding":{
  "x":{"field":"d","type":"temporal","title":null,
   "scale":{"type":"utc","domain":[{"year":1988,"month":12,"date":24,"hours":18,"utc":true},{"year":2024,"month":1,"date":3,"hours":5,"utc":true}]},
   "axis":{"values":[{"year":1990,"month":1,"date":1,"utc":true},{"year":1993,"month":1,"date":1,"utc":true},{"year":1996,"month":1,"date":1,"utc":true},{"year":1999,"month":1,"date":1,"utc":true},{"year":2002,"month":1,"date":1,"utc":true},{"year":2005,"month":1,"date":1,"utc":true},{"year":2008,"month":1,"date":1,"utc":true},{"year":2011,"month":1,"date":1,"utc":true},{"year":2014,"month":1,"date":1,"utc":true},{"year":2017,"month":1,"date":1,"utc":true},{"year":2020,"month":1,"date":1,"utc":true},{"year":2023,"month":1,"date":1,"utc":true}],
    "format":"%d-%b-%y","orient":"bottom","offset":-61,"domain":false,"grid":false,"ticks":true,"tickSize":16,"tickWidth":3.5,"tickColor":"#C8144A",
    "labelFont":"Roboto","labelFontSize":32,"labelFontWeight":300,"labelColor":"#C8144A","labelPadding":10,"labelOverlap":false,"labelBound":false,"labelFlush":false,"zindex":1,"title":null}},
  "y":{"field":"v","type":"quantitative","title":null,
   "scale":{"domain":[-5.185,93.62],"nice":false,"zero":false},
   "axis":{"values":[0,10,20,30,40,50,60,70,80,90],"orient":"left","offset":-48,"domain":false,"grid":false,"ticks":false,"tickSize":0,"labelPadding":0,
    "labelFont":"Roboto","labelFontSize":32,"labelFontWeight":300,"labelColor":"#C8144A","labelOverlap":false,"labelBound":false,"labelFlush":false,"labelOffset":-1,"title":null}}}},
{"data":{"values":[{}]},
 "mark":{"type":"rule","color":"#C8144A","strokeWidth":4},
 "encoding":{"y":{"datum":0,"type":"quantitative"},
  "x":{"datum":{"year":1990,"month":1,"date":1,"utc":true},"type":"temporal"},
  "x2":{"datum":{"year":2023,"month":4,"date":21,"utc":true}}}},
{"data":{"name":"notes"},"transform":[{"filter":"datum.g === 'c'"}],
 "mark":{"type":"text","font":"Roboto","fontSize":32,"fontWeight":300,"color":"#454545","align":"center","baseline":"alphabetic"},
 "encoding":{"x":{"field":"d","type":"temporal"},"y":{"field":"v","type":"quantitative"},"text":{"field":"t"}}},
{"data":{"name":"notes"},"transform":[{"filter":"datum.g === 'n'"}],
 "mark":{"type":"text","font":"Roboto","fontSize":31,"fontWeight":400,"color":"#3A3A3A","align":"center","baseline":"alphabetic"},
 "encoding":{"x":{"field":"d","type":"temporal"},"y":{"field":"v","type":"quantitative"},"text":{"field":"t"}}},
{"data":{"name":"notes"},"transform":[{"filter":"datum.g === 'r'"}],
 "mark":{"type":"text","font":"Roboto","fontSize":26,"fontWeight":300,"color":"#454545","align":"right","baseline":"alphabetic"},
 "encoding":{"x":{"field":"d","type":"temporal"},"y":{"field":"v","type":"quantitative"},"text":{"field":"t"}}},
{"data":{"name":"notes"},"transform":[{"filter":"datum.g === 'rn'"}],
 "mark":{"type":"text","font":"Roboto","fontSize":31,"fontWeight":400,"color":"#3A3A3A","align":"right","baseline":"alphabetic"},
 "encoding":{"x":{"field":"d","type":"temporal"},"y":{"field":"v","type":"quantitative"},"text":{"field":"t"}}},
{"data":{"name":"arrow"},
 "mark":{"type":"rule","color":"#3F3F3F","strokeWidth":3},
 "encoding":{"x":{"field":"d","type":"temporal"},"y":{"field":"a","type":"quantitative"},"y2":{"field":"b"}}},
{"data":{"name":"arrow"},
 "mark":{"type":"point","shape":"triangle-down","size":256,"filled":true,"color":"#3F3F3F","opacity":1},
 "encoding":{"x":{"field":"d","type":"temporal"},"y":{"field":"h","type":"quantitative"}}}
]
}
